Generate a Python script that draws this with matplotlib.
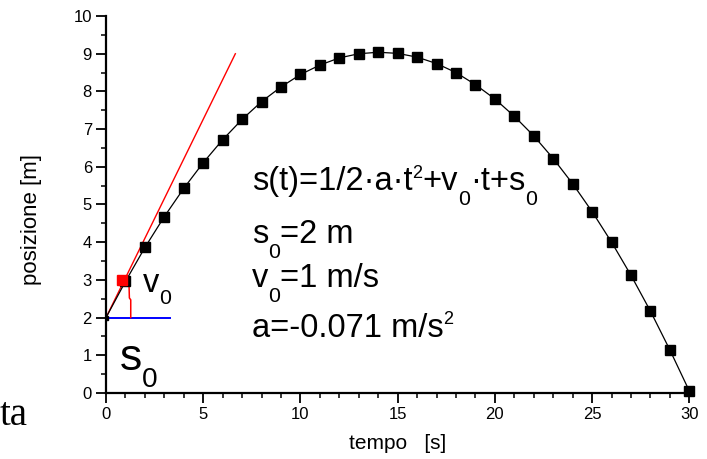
import numpy as np
import matplotlib.pyplot as plt
import matplotlib.transforms as mtransforms
from matplotlib.ticker import MultipleLocator

plt.rcParams['font.family'] = ['Liberation Sans', 'DejaVu Sans']

tempo = list(range(0, 31))
posizione = [2.00, 2.96, 3.86, 4.68, 5.43, 6.11, 6.72, 7.26, 7.73, 8.12,
             8.45, 8.70, 8.89, 9.00, 9.04, 9.01, 8.91, 8.74, 8.50, 8.18,
             7.80, 7.34, 6.82, 6.22, 5.55, 4.81, 4.00, 3.12, 2.17, 1.14,
             0.05]

# tangent at t=0 (slope v0), baseline s0 and angle mark
tangente_t = [0, 6.65]
tangente_s = [2, 9]
base_t = [0, 3.3]
base_s = [2, 2]
arco_t = [1.27, 1.27, 1.2, 1.18]
arco_s = [2.0, 2.47, 2.52, 2.9]
v0_t = [0.82]
v0_s = [3.0]

fig = plt.figure(figsize=(7.07, 4.59), dpi=100)
ax = fig.add_axes([0.150, 0.144, 0.825, 0.821])
renderer = fig.canvas.get_renderer()


def rich_text(x, y, parts, size, sub_dy=-0.45, sub_size=0.65, sup_dy=0.36, sup_size=0.55):
    # draw text piece by piece, with subscripts / superscripts
    dx = 0.0
    for s, kind in parts:
        fs, dy = size, 0.0
        if kind == 'sub':
            fs, dy = size * sub_size, size * sub_dy
        elif kind == 'sup':
            fs, dy = size * sup_size, size * sup_dy
        tr = mtransforms.offset_copy(ax.transData, fig=fig, x=dx, y=dy, units='points')
        t = ax.text(x, y, s, fontsize=fs, transform=tr, va='baseline', clip_on=False)
        dx += t.get_window_extent(renderer).width * 72.0 / fig.dpi


ax.plot(tangente_t, tangente_s, color='red', lw=1)
ax.plot(base_t, base_s, color='blue', lw=1.4)
ax.plot(arco_t, arco_s, color='red', lw=1.1)
ax.plot(tempo, posizione, color='black', lw=0.9, marker='s', ms=7,
        markevery=list(range(1, len(tempo))), clip_on=False, zorder=4)
ax.plot(tempo[:1], posizione[:1], marker='s', color='black', ms=3, zorder=4)
ax.plot(v0_t, v0_s, marker='s', color='red', ms=7, ls='none', zorder=5)

ax.set_xlim(0, 30)
ax.set_ylim(0, 10)
ax.xaxis.set_major_locator(MultipleLocator(5))
ax.xaxis.set_minor_locator(MultipleLocator(1))
ax.yaxis.set_major_locator(MultipleLocator(1))
ax.yaxis.set_minor_locator(MultipleLocator(0.5))
for s in ['top', 'right']:
    ax.spines[s].set_visible(False)
for s in ['left', 'bottom']:
    ax.spines[s].set_linewidth(1.6)
ax.tick_params(which='major', direction='out', length=7.2, width=1.3, labelsize=12, pad=3)
ax.tick_params(which='minor', direction='out', length=3.6, width=1.1)

ax.set_xlabel('tempo   [s]', fontsize=15, va='top')
ax.xaxis.set_label_coords(0.5, -0.11)
ax.set_ylabel('posizione [m]', fontsize=16)
ax.yaxis.set_label_coords(-0.11, 0.46)

rich_text(7.5, 5.38, [('s(t)=1/2·a·t', ''), ('2', 'sup'), ('+v', ''), ('0', 'sub'),
                      ('·t+s', ''), ('0', 'sub')], 23.5)
rich_text(7.5, 3.98, [('s', ''), ('0', 'sub'), ('=2 m', '')], 23.5)
rich_text(7.5, 2.81, [('v', ''), ('0', 'sub'), ('=1 m/s', '')], 23.5)
rich_text(7.5, 1.49, [('a=-0.071 m/s', ''), ('2', 'sup')], 23.5, sup_dy=0.4)
rich_text(1.9, 2.68, [('v', ''), ('0', 'sub')], 23.5, sub_dy=-0.38)
rich_text(0.72, 0.61, [('s', ''), ('0', 'sub')], 32, sub_dy=-0.38, sub_size=0.63)

fig.text(0.0, 0.074, 'ta', fontsize=28, family='Liberation Serif')

fig.savefig('out.png', dpi=100)
